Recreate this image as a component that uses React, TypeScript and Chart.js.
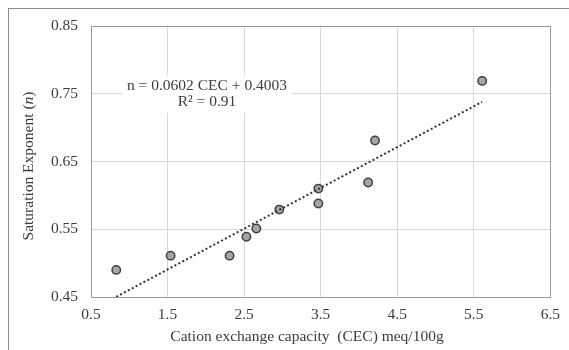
import React, { useEffect, useRef } from "react";
import { Chart, registerables } from "chart.js";

Chart.register(...registerables);

// ---- Data ----
const cecValues = [0.83, 1.54, 2.31, 2.53, 2.66, 2.96, 3.47, 3.47, 4.12, 4.21, 5.61];
const saturationExponent = [0.49, 0.511, 0.511, 0.539, 0.551, 0.579, 0.61, 0.588, 0.619, 0.681, 0.769];
const slope = 0.0602;
const intercept = 0.4003;
const rSquared = 0.91;
const xMin = 0.5;
const xMax = 6.5;
const xStep = 1;
const yMin = 0.45;
const yMax = 0.85;
const yStep = 0.1;
const xAxisTitle = "Cation exchange capacity  (CEC) meq/100g";
const yAxisTitleParts = ["Saturation Exponent (", "n", ")"];
const equationText = `n = ${slope} CEC + ${intercept}`;
const r2Text = `R² = ${rSquared}`;

const FONT = "'Liberation Serif', 'Times New Roman', serif";
const FS = 15.5;
const TEXT = "#3c3c3c";

export default function App() {
  const ref = useRef<HTMLCanvasElement | null>(null);

  useEffect(() => {
    const canvas = ref.current;
    if (!canvas) return;
    const trendX = [Math.min(...cecValues), Math.max(...cecValues)];
    const trendData = trendX.map((x) => ({ x, y: slope * x + intercept }));
    const pointData = cecValues.map((x, i) => ({ x, y: saturationExponent[i] }));

    const decor = {
      id: "decor",
      beforeDraw(chart: any) {
        const ctx = chart.ctx;
        ctx.save();
        ctx.fillStyle = "#ffffff";
        ctx.fillRect(0, 0, chart.width, chart.height);
        ctx.strokeStyle = "#8c8c8c";
        ctx.lineWidth = 1;
        ctx.strokeRect(8.5, 8.5, chart.width + 20, chart.height + 20);
        ctx.restore();
      },
      beforeDatasetsDraw(chart: any) {
        const ctx = chart.ctx;
        const a = chart.chartArea;
        ctx.save();
        // plot frame
        ctx.strokeStyle = "#9a9a9a";
        ctx.lineWidth = 1;
        ctx.strokeRect(Math.round(a.left) + 0.5, Math.round(a.top) + 0.5, Math.round(a.right - a.left), Math.round(a.bottom - a.top));
        // equation box
        ctx.fillStyle = "#ffffff";
        ctx.fillRect(122, 75, 170, 38);
        ctx.fillStyle = TEXT;
        ctx.font = `${FS}px ${FONT}`;
        ctx.textAlign = "center";
        ctx.textBaseline = "middle";
        ctx.fillText(equationText, 207, 86);
        ctx.fillText(r2Text, 207, 102);
        // x title
        ctx.fillText(xAxisTitle, 307, 337);
        // y title with italic n
        ctx.translate(28.5, 166);
        ctx.rotate(-Math.PI / 2);
        const fonts = [`${FS}px ${FONT}`, `italic ${FS}px ${FONT}`, `${FS}px ${FONT}`];
        let total = 0;
        const widths = yAxisTitleParts.map((p, i) => {
          ctx.font = fonts[i];
          const w = ctx.measureText(p).width;
          total += w;
          return w;
        });
        ctx.textAlign = "left";
        let cx = -total / 2;
        yAxisTitleParts.forEach((p, i) => {
          ctx.font = fonts[i];
          ctx.fillText(p, cx, 0);
          cx += widths[i];
        });
        ctx.restore();
      },
    };

    const chart = new Chart(canvas, {
      type: "scatter",
      data: {
        datasets: [
          {
            type: "line",
            data: trendData,
            borderColor: "#333333",
            borderWidth: 2,
            borderDash: [2, 2.4],
            pointRadius: 0,
            fill: false,
            order: 0,
          } as any,
          {
            data: pointData,
            backgroundColor: "#a5a5a5",
            borderColor: "#3f3f3f",
            borderWidth: 1.5,
            pointRadius: 4.2,
            order: 1,
          },
        ],
      },
      options: {
        animation: false,
        responsive: false,
        devicePixelRatio: 1,
        layout: { padding: { left: 0, top: 26, right: 17, bottom: 0 } },
        plugins: { legend: { display: false }, tooltip: { enabled: false } },
        scales: {
          x: {
            type: "linear",
            min: xMin,
            max: xMax,
            ticks: {
              stepSize: xStep,
              callback: (v: any) => Number(v).toFixed(1),
              font: { family: FONT, size: FS },
              color: TEXT,
              padding: 9,
              maxRotation: 0,
            },
            grid: { color: "#d9d9d9", drawTicks: false },
            border: { display: false },
            afterFit: (s: any) => {
              s.height = 53;
            },
          },
          y: {
            type: "linear",
            min: yMin,
            max: yMax,
            ticks: {
              stepSize: yStep,
              callback: (v: any) => Number(v).toFixed(2),
              font: { family: FONT, size: FS },
              color: TEXT,
              padding: 13,
            },
            grid: { color: "#d9d9d9", drawTicks: false },
            border: { display: false },
            afterFit: (s: any) => {
              s.width = 91;
            },
          },
        },
      },
      plugins: [decor],
    });
    return () => chart.destroy();
  }, []);

  return (
    <div style={{ position: "fixed", left: 0, top: 0, width: 569, height: 350, background: "#fff" }}>
      <canvas ref={ref} width={569} height={350} style={{ width: 569, height: 350, display: "block" }} />
    </div>
  );
}
